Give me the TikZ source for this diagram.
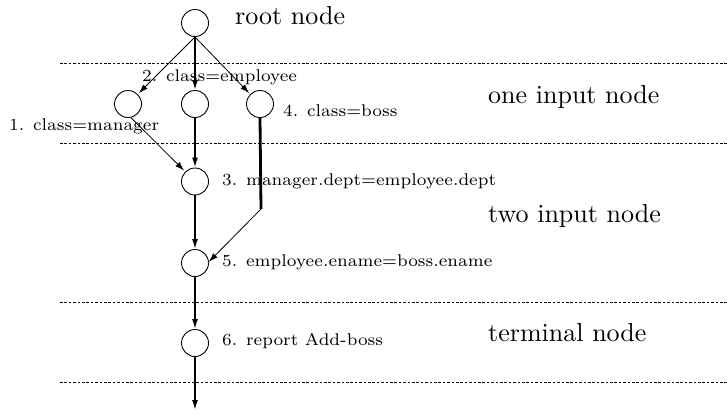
\documentclass[tikz,border=0pt]{standalone}
\usepackage{fontspec}
\usetikzlibrary{arrows.meta}
\newfontfamily\labelfont{lmroman7-regular.otf}
\newfontfamily\titlefont{lmroman10-regular.otf}
\tikzset{
  state/.style={circle, draw, line width=0.9pt, minimum size=27pt, inner sep=0pt},
  layer/.style={dash pattern=on 2.6pt off 1.8pt, line width=0.9pt},
  edge/.style={-{Latex[length=10pt,width=6pt]}, line width=1.6pt},
  thinedge/.style={-{Latex[length=9pt,width=6pt]}, line width=0.8pt},
  bossline/.style={line width=2.8pt},
  rule/.style={anchor=base west, inner sep=0pt, font=\labelfont\fontsize{17}{20}\selectfont},
  layername/.style={anchor=base west, inner sep=0pt, font=\titlefont\fontsize{26}{30}\selectfont}
}
\begin{document}
\begin{tikzpicture}[x=1pt, y=-1pt]
  \useasboundingbox (0,0) rectangle (727,413);

  % layer separators
  \foreach \yy in {63,143,302,382}
    \draw[layer] (60,\yy) -- (727,\yy);

  % nodes
  \node[state] (root) at (195,23) {};
  \node[state] (mgr) at (128,104) {};
  \node[state] (emp) at (195,104) {};
  \node[state] (boss) at (260,104) {};
  \node[state] (join1) at (195,181.5) {};
  \node[state] (join2) at (195,263) {};
  \node[state] (term) at (195,343) {};
  \coordinate (bend) at (261,209);
  \coordinate (out) at (195,410);

  % layer names
  \node[layername] (lroot) at (235,24) {root node};
  \node[layername] (lone) at (488,103) {one input node};
  \node[layername] (ltwo) at (488,222) {two input node};
  \node[layername] (lterm) at (488,341) {terminal node};

  % condition labels
  \node[rule] (c2) at (142,81) {2. class=employee};
  \node[rule] (c1) at (9,130) {1. class=manager};
  \node[rule] (c4) at (283,116) {4. class=boss};
  \node[rule] (c3) at (222,185) {3. manager.dept=employee.dept};
  \node[rule] (c5) at (222,266) {5. employee.ename=boss.ename};
  \node[rule] (c6) at (222,345) {6. report Add-boss};

  % connectors
  \draw[thinedge, shorten >=1.5pt] (root.south) -- (mgr.45);
  \draw[edge] (root.south) -- (emp.north);
  \draw[thinedge, shorten >=1.5pt] (root.south) -- (boss.135);
  \draw[thinedge, shorten >=1.5pt] (mgr.-78) -- (join1.135);
  \draw[edge] (emp.south) -- (join1.north);
  \draw[bossline] (boss.south) -- (bend);
  \draw[thinedge] (bend) -- (join2.5);
  \draw[edge] (join1.south) -- (join2.north);
  \draw[edge] (join2.south) -- (term.north);
  \draw[edge] (term.south) -- (out);
\end{tikzpicture}
\end{document}
